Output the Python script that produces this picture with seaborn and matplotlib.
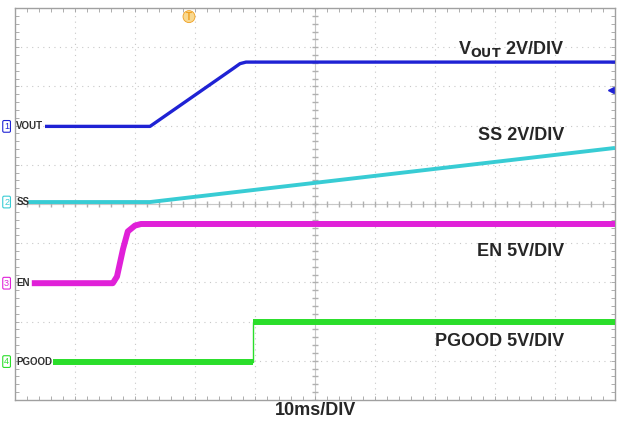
import numpy as np
import pandas as pd
import seaborn as sns
import matplotlib.pyplot as plt

# Scope traces, time in ms (10 ms/div), level in screen divisions (0 = bottom)
vout_t = [5.0, 22.5, 36.4, 37.5, 38.5, 100.0]
vout_v = [6.98, 6.98, 8.46, 8.58, 8.62, 8.62]

ss_t = [2.2, 22.5, 100.0]
ss_v = [5.05, 5.05, 6.43]

en_t = [2.8, 16.3, 17.0, 18.0, 18.8, 20.0, 21.0, 100.0]
en_v = [2.98, 2.98, 3.15, 3.85, 4.3, 4.45, 4.49, 4.49]

pg_t = [6.3, 39.7, 39.7, 100.0]
pg_v = [0.98, 0.98, 2.0, 2.0]
pg_state = ["low", "low", "high", "high"]

channels = ["VOUT", "SS", "EN", "PGOOD"]
channel_ids = ["1", "2", "3", "4"]
channel_colors = ["#1f22d4", "#38ccd4", "#e020d8", "#2ade2a"]
channel_widths = [2.4, 2.8, 4.3, 4.3]
offsets = [6.98, 5.05, 2.98, 0.98]
scale_labels = [r"V$_{\mathbf{OUT}}$ 2V/DIV", "SS 2V/DIV", "EN 5V/DIV", "PGOOD 5V/DIV"]
label_y = [8.95, 6.75, 3.8, 1.5]

traces = [(vout_t, vout_v), (ss_t, ss_v), (en_t, en_v)]

sns.set_style("white")
plt.rcParams['font.family'] = ['Liberation Sans', 'DejaVu Sans']

fig = plt.figure(figsize=(6.19, 4.23), dpi=100)
ax = fig.add_axes([15 / 619, 23 / 423, 600 / 619, 392 / 423])

# scope graticule
for i in range(1, 10):
    ax.axvline(i * 10, color="#c8c8c8", lw=0.8, ls=(0, (1, 4)), zorder=0)
    ax.axhline(i, color="#c8c8c8", lw=0.8, ls=(0, (1, 4)), zorder=0)
ax.axvline(50, color="#c8c8c8", lw=0.8, zorder=0)
ax.axhline(5, color="#c8c8c8", lw=0.8, zorder=0)
mt = np.arange(0, 100.01, 2)
ax.plot(mt, np.full_like(mt, 5.0), ls="none", marker="|", ms=4, color="#b0b0b0", zorder=0)
mv = np.arange(0, 10.01, 0.2)
ax.plot(np.full_like(mv, 50.0), mv, ls="none", marker="_", ms=4, color="#b0b0b0", zorder=0)

for (t, v), col, w in zip(traces, channel_colors[:3], channel_widths[:3]):
    df = pd.DataFrame({"t": t, "v": v})
    sns.lineplot(data=df, x="t", y="v", ax=ax, color=col, lw=w, sort=False,
                 estimator=None, solid_capstyle="butt", zorder=3)

# PGOOD: thin edge, thick noisy levels
pg = pd.DataFrame({"t": pg_t, "v": pg_v, "state": pg_state})
sns.lineplot(data=pg, x="t", y="v", ax=ax, color=channel_colors[3], lw=1.0,
             sort=False, estimator=None, zorder=3)
sns.lineplot(data=pg, x="t", y="v", units="state", ax=ax, color=channel_colors[3],
             lw=channel_widths[3], sort=False, estimator=None,
             solid_capstyle="butt", zorder=3)

ax.set_xlim(0, 100)
ax.set_ylim(0, 10)
ax.set_xticks([])
ax.set_yticks([])
ax.set_xticks(np.arange(0, 100.01, 2), minor=True)
ax.set_yticks(np.arange(0, 10.01, 0.2), minor=True)
ax.tick_params(which="minor", direction="in", length=3, color="#a0a0a0",
               top=True, right=True, bottom=True, left=True)
ax.set_xlabel("")
ax.set_ylabel("")
for s in ax.spines.values():
    s.set_color("#a0a0a0")
    s.set_linewidth(1.0)

# channel markers on the left
for cid, name, col, off in zip(channel_ids, channels, channel_colors, offsets):
    ax.text(-1.4, off, cid, color=col, fontsize=6.5, ha="center", va="center",
            bbox=dict(boxstyle="round,pad=0.15", fc="white", ec=col, lw=0.8),
            clip_on=False)
    ax.text(0.2, off, name, color="#303030", fontsize=7, ha="left", va="center",
            fontweight="bold", clip_on=False)

# scale labels
for lab, y in zip(scale_labels, label_y):
    ax.text(91.5, y, lab, fontsize=13, fontweight="bold", ha="right", va="center")

# trigger position and reference markers
ax.text(29.0, 9.78, "T", color="#f0a020", fontsize=7, fontweight="bold",
        ha="center", va="center",
        bbox=dict(boxstyle="circle,pad=0.1", fc="#f8d890", ec="#f0a020", lw=0.6))
ax.plot([99.4], [7.9], marker="<", ms=4, color="#1f22d4", ls="none")

fig.text(315 / 619, 1 - 410 / 423, "10ms/DIV", fontsize=13, fontweight="bold",
         ha="center", va="center")

fig.savefig("out.png", dpi=100, facecolor="white")
